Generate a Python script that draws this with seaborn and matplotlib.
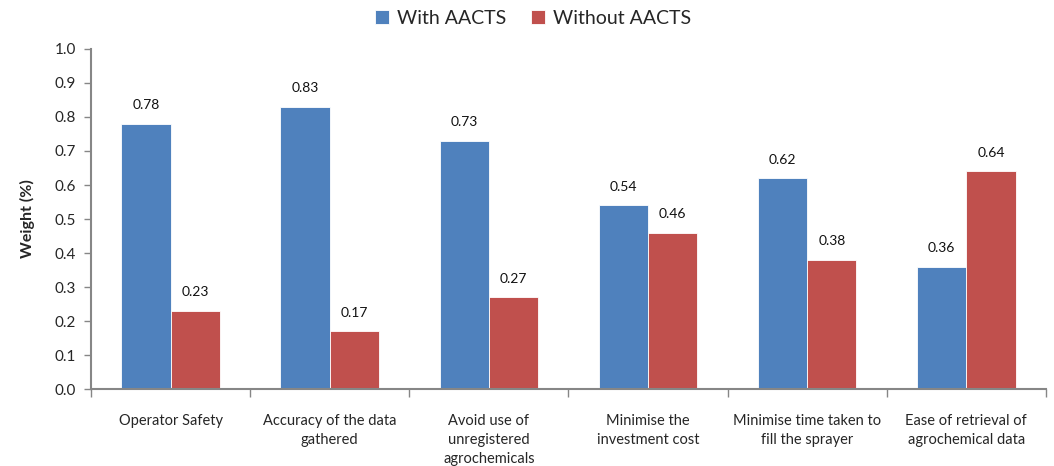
import matplotlib
matplotlib.use("Agg")
import matplotlib.pyplot as plt
import seaborn as sns
import pandas as pd
import numpy as np

categories = [
    "Operator Safety",
    "Accuracy of the data\ngathered",
    "Avoid use of\nunregistered\nagrochemicals",
    "Minimise the\ninvestment cost",
    "Minimise time taken to\nfill the sprayer",
    "Ease of retrieval of\nagrochemical data",
]
with_aacts = [0.78, 0.83, 0.73, 0.54, 0.62, 0.36]
without_aacts = [0.23, 0.17, 0.27, 0.46, 0.38, 0.64]
series_names = ["With AACTS", "Without AACTS"]
y_ticks = [0.0, 0.1, 0.2, 0.3, 0.4, 0.5, 0.6, 0.7, 0.8, 0.9, 1.0]

df = pd.DataFrame({
    "cat": categories * 2,
    "val": with_aacts + without_aacts,
    "series": [series_names[0]] * len(categories) + [series_names[1]] * len(categories),
})

sns.set_theme(style="white")
plt.rcParams["font.family"] = ["Lato", "DejaVu Sans"]

fig = plt.figure(figsize=(10.54, 4.66), dpi=100)
ax = fig.add_axes([0.0863, 0.165, 0.906, 0.730])

palette = {"With AACTS": "#4F81BD", "Without AACTS": "#C0504D"}
sns.barplot(data=df, x="cat", y="val", hue="series", order=categories,
            hue_order=series_names, palette=palette, width=0.62, ax=ax,
            saturation=1, edgecolor="white", linewidth=0.6, legend=True)

for cont in ax.containers:
    ax.bar_label(cont, fmt="%.2f", padding=9, fontsize=10, color="#111111")

ax.set_ylim(0, 1.0)
ax.set_xlim(-0.5, len(categories) - 0.5)
ax.set_yticks(y_ticks)
ax.set_yticklabels([f"{t:.1f}" for t in y_ticks], fontsize=11)
ax.set_xlabel("")
ax.set_ylabel("Weight (%)", fontsize=11.5, fontweight="bold", labelpad=14)
ax.tick_params(axis="x", length=0, pad=18, labelsize=10.5)
ax.tick_params(axis="y", length=5, width=1, color="#868686", direction="out", left=True, pad=6)
ax.set_xticks(np.arange(-0.5, len(categories), 1.0), minor=True)
ax.tick_params(axis="x", which="minor", length=6, width=1, color="#868686", direction="out", bottom=True)
for lab in ax.get_xticklabels():
    lab.set_verticalalignment("top")
    lab.set_linespacing(1.45)

sns.despine(ax=ax)
for s in ["left", "bottom"]:
    ax.spines[s].set_color("#868686")
    ax.spines[s].set_linewidth(1.5)

ax.legend(loc="center", bbox_to_anchor=(0.463, 1.09), ncol=2, frameon=False,
          fontsize=14, handlelength=0.7, handleheight=0.7, handletextpad=0.4,
          columnspacing=1.3, borderpad=0)

fig.savefig("out.png", dpi=100)
